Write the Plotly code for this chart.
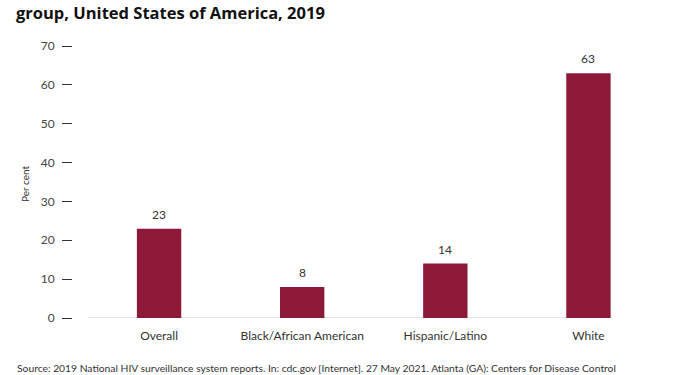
import plotly.graph_objects as go

categories = ["Overall", "Black/African American", "Hispanic/Latino", "White"]
values = [23, 8, 14, 63]
y_ticks = [0, 10, 20, 30, 40, 50, 60, 70]

W, H = 675, 375
ml, mr, mt, mb = 20, 15, 46, 57
pw = W - ml - mr
ph = H - mt - mb
x0_px = 87.5
dom0 = (x0_px - ml) / pw

fig = go.Figure()
fig.add_trace(go.Bar(
    x=list(range(len(categories))), y=values,
    marker=dict(color="#8E1838", line=dict(width=0)),
    width=0.31,
    hoverinfo="skip",
))

for i, v in enumerate(values):
    fig.add_annotation(x=i, y=v, xref="x", yref="y", text=str(v), showarrow=False,
                       yanchor="bottom", yshift=5,
                       font=dict(family="Lato", size=12, color="#333333"))

fig.update_layout(
    width=W, height=H,
    margin=dict(l=ml, r=mr, t=mt, b=mb),
    plot_bgcolor="white", paper_bgcolor="white",
    showlegend=False,
    xaxis=dict(domain=[dom0, 1], range=[-0.5, 3.5],
               tickmode="array", tickvals=list(range(len(categories))), ticktext=categories,
               ticks="", showgrid=False, zeroline=False, showline=False,
               ticklabelstandoff=9,
               tickfont=dict(family="Lato", size=12, color="#333333")),
    yaxis=dict(range=[0, 70], anchor="free", position=(72 - ml) / pw,
               tickmode="array", tickvals=y_ticks,
               ticks="outside", ticklen=10, tickwidth=1.2, tickcolor="#333333",
               ticklabelstandoff=5,
               showgrid=False, zeroline=False, showline=False,
               tickfont=dict(family="Lato", size=12, color="#444444")),
    font=dict(family="Lato"),
)

# baseline axis line
fig.add_shape(type="line", xref="x", yref="y", x0=-0.5, x1=3.16, y0=0, y1=0,
              line=dict(color="#D0D0D0", width=1.2), layer="below")

fig.add_annotation(text="Per cent", xref="paper", yref="paper",
                   x=(25 - ml) / pw, y=(318 - 184) / ph, textangle=-90,
                   showarrow=False, xanchor="center", yanchor="middle",
                   font=dict(family="Lato", size=10, color="#333333"))

fig.add_annotation(text="<b>group, United States of America, 2019</b>",
                   xref="paper", yref="paper", x=(15 - ml) / pw, y=1 + mt / ph,
                   showarrow=False, xanchor="left", yanchor="top", borderpad=0,
                   font=dict(family="Open Sans", size=16.5, color="#111111"))

fig.add_annotation(text="Source: 2019 National HIV surveillance system reports. In: cdc.gov [Internet]. 27 May 2021. Atlanta (GA): Centers for Disease Control",
                   xref="paper", yref="paper", x=(15 - ml) / pw, y=-(368 - 318) / ph,
                   showarrow=False, xanchor="left", yanchor="middle",
                   font=dict(family="Lato", size=10.3, color="#333333"))

fig.write_html("out.html", config={"displayModeBar": False},
               post_script="document.body.style.margin='0';document.body.style.padding='0';")
